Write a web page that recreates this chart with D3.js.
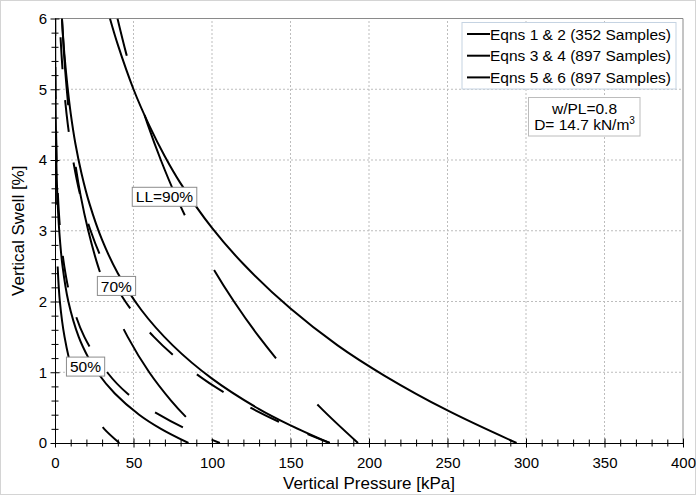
<!DOCTYPE html>
<html>
<head>
<meta charset="utf-8">
<script src="https://cdn.jsdelivr.net/npm/d3@7"></script>
<style>
  body { margin: 0; background: #fff; }
  text { font-family: "Liberation Sans", Arial, sans-serif; fill: #000; }
</style>
</head>
<body>
<div id="chart"></div>
<script>
// [pressure kPa, swell %]
var eq12_ll90 = [[35,6.0],[40,5.63],[50,5.0],[60,4.49],[70,4.05],[80,3.67],[100,3.04],[120,2.53],[150,1.9],[180,1.38],[210,0.95],[250,0.46],[294,0]];
var eq12_ll70 = [[4.4,6.0],[6,5.49],[8,5.03],[10,4.66],[13,4.23],[17,3.8],[22,3.38],[30,2.87],[40,2.4],[55,1.88],[75,1.38],[100,0.91],[130,0.48],[150,0.25],[175,0]];
var eq12_ll50 = [[0.085,6],[0.27,5],[0.85,4],[1.5,3.5],[2.7,3],[4.8,2.5],[8.5,2],[15.1,1.5],[21.4,1.2],[26.9,1.0],[38.1,0.7],[53.6,0.4],[67.5,0.2],[85,0]];

var eq34_ll90 = [[39.8,6],[45.4,5.5],[51.8,5],[59.1,4.5],[67.4,4],[76.8,3.5],[87.6,3],[99.9,2.5],[114,2],[130,1.5],[148.3,1],[169.1,0.5],[193,0]];
var eq34_ll70 = [[4.45,6],[5.75,5.5],[7.48,5],[9.69,4.5],[12.56,4],[16.3,3.5],[21.2,3],[27.4,2.5],[35.6,2],[46.3,1.5],[60,1],[73.9,0.6],[86.4,0.3],[101,0]];
var eq34_ll50 = [[0.019,6],[0.068,5],[0.24,4],[0.88,3],[1.67,2.5],[3.1,2],[6.08,1.5],[11.3,1],[16.9,0.7],[24.3,0.4],[31.3,0.2],[41,0]];

var eq56_ll70 = [[2.94,6],[4.13,5.5],[5.8,5],[8.17,4.5],[11.5,4],[16.1,3.5],[22.7,3],[31.9,2.5],[44.8,2],[63,1.5],[88.6,1],[116.3,0.6],[142.6,0.3],[175,0]];
var eq56_ll50 = [[0.105,6],[0.33,5],[1.05,4],[1.87,3.5],[3.32,3],[5.9,2.5],[10.5,2],[18.7,1.5],[33.2,1],[46.1,0.7],[66.3,0.4],[83.4,0.2],[105,0]];

var legendLabels = ["Eqns 1 & 2 (352 Samples)", "Eqns 3 & 4 (897 Samples)", "Eqns 5 & 6 (897 Samples)"];
var curveLabels = [{text: "LL=90%", p: 69.7, s: 3.48}, {text: "70%", p: 39.1, s: 2.22}, {text: "50%", p: 19.4, s: 1.08}];

var width = 696, height = 495;
var margin = {top: 18.5, right: 13, bottom: 52, left: 55};

var svg = d3.select("#chart").append("svg")
    .attr("width", width)
    .attr("height", height);

// outer frame
svg.append("rect")
    .attr("x", 0.5).attr("y", 0.5)
    .attr("width", width - 1).attr("height", height - 1)
    .attr("fill", "#fff").attr("stroke", "#d4d4d4");

var x = d3.scaleLinear().domain([0, 400]).range([margin.left, width - margin.right]);
var y = d3.scaleLinear().domain([0, 6]).range([height - margin.bottom, margin.top]);

svg.append("defs").append("clipPath").attr("id", "clip")
  .append("rect")
    .attr("x", x(0)).attr("y", y(6))
    .attr("width", x(400) - x(0)).attr("height", y(0) - y(6));

// grid
var grid = svg.append("g").attr("class", "grid");
grid.selectAll(".gx").data(d3.range(50, 400, 50)).enter().append("line")
    .attr("x1", function(d) { return x(d); }).attr("x2", function(d) { return x(d); })
    .attr("y1", y(0)).attr("y2", y(6));
grid.selectAll(".gy").data([1, 2, 3, 4, 5]).enter().append("line")
    .attr("y1", function(d) { return y(d); }).attr("y2", function(d) { return y(d); })
    .attr("x1", x(0)).attr("x2", x(400));
grid.selectAll("line")
    .attr("stroke", "#bdbdbd")
    .attr("stroke-dasharray", "2,2")
    .attr("stroke-width", 1);

// plot frame (top / right)
svg.append("path")
    .attr("d", "M" + x(0) + "," + y(6) + "H" + x(400) + "V" + y(0))
    .attr("fill", "none").attr("stroke", "#8a8a8a");

var line = d3.line()
    .curve(d3.curveCatmullRom.alpha(0.5))
    .x(function(d) { return x(d[0]); })
    .y(function(d) { return y(d[1]); });

// dashed curves are drawn from the axis upward so the dash phase starts at swell = 0
var series = [
  {values: eq12_ll90, dash: null},
  {values: eq12_ll70, dash: null},
  {values: eq12_ll50, dash: null},
  {values: eq34_ll90, dash: "108,62", offset: 52},
  {values: eq34_ll70, dash: "108,62", offset: 132},
  {values: eq34_ll50, dash: "108,62", offset: 85},
  {values: eq56_ll70, dash: "32,31", offset: 8},
  {values: eq56_ll50, dash: "32,31", offset: 23}
];

svg.append("g")
    .attr("clip-path", "url(#clip)")
  .selectAll("path").data(series).enter().append("path")
    .attr("d", function(d) { return line(d.values.slice().reverse()); })
    .attr("fill", "none")
    .attr("stroke", "#000")
    .attr("stroke-width", 2)
    .attr("stroke-dasharray", function(d) { return d.dash; })
    .attr("stroke-dashoffset", function(d) { return d.offset || 0; });

// curve labels
var lab = svg.append("g").selectAll("g").data(curveLabels).enter().append("g")
    .attr("transform", function(d) { return "translate(" + x(d.p) + "," + y(d.s) + ")"; });
lab.append("text")
    .attr("text-anchor", "middle")
    .attr("dy", "0.36em")
    .style("font-size", "15.5px")
    .text(function(d) { return d.text; });
lab.each(function() {
  var g = d3.select(this), bb = g.select("text").node().getBBox();
  g.insert("rect", "text")
      .attr("x", bb.x - 3.5).attr("y", -9.5)
      .attr("width", bb.width + 7).attr("height", 19)
      .attr("fill", "#fff").attr("stroke", "#8c8c8c");
});

// axes
var isInt = function(d) { return Math.abs(d - Math.round(d)) < 1e-6; };

var gx = svg.append("g")
    .attr("transform", "translate(0," + y(0) + ")")
    .call(d3.axisBottom(x).tickValues(d3.range(0, 401, 10)).tickSizeOuter(0).tickSize(0)
      .tickFormat(function(d) { return d % 50 === 0 ? d : ""; }));
gx.selectAll(".tick line")
    .attr("y1", function(d) { return d % 50 === 0 ? -4.5 : -3.5; })
    .attr("y2", function(d) { return d % 50 === 0 ? 4.5 : 3.5; });
gx.selectAll(".tick text").attr("y", 14).style("font-size", "15px");

var gy = svg.append("g")
    .attr("transform", "translate(" + x(0) + ",0)")
    .call(d3.axisLeft(y).tickValues(d3.range(0, 31).map(function(i) { return i * 0.2; }))
      .tickSizeOuter(0).tickSize(0)
      .tickFormat(function(d) { return isInt(d) ? Math.round(d) : ""; }));
gy.selectAll(".tick line")
    .attr("x1", function(d) { return isInt(d) ? -4.5 : -3.5; })
    .attr("x2", function(d) { return isInt(d) ? 4.5 : 3.5; });
gy.selectAll(".tick text").attr("x", -8).style("font-size", "15px");

svg.selectAll(".domain, .tick line").attr("stroke", "#000");

svg.append("text")
    .attr("x", (x(0) + x(400)) / 2).attr("y", 489)
    .attr("text-anchor", "middle")
    .style("font-size", "17px")
    .text("Vertical Pressure [kPa]");

svg.append("text")
    .attr("transform", "translate(24," + ((y(0) + y(6)) / 2) + ") rotate(-90)")
    .attr("text-anchor", "middle")
    .style("font-size", "17px")
    .text("Vertical Swell [%]");

// legend
var legend = svg.append("g").attr("transform", "translate(462,22.5)");
legend.append("rect")
    .attr("width", 214).attr("height", 66.5)
    .attr("fill", "#fff").attr("stroke", "#c5d3e2");
var li = legend.selectAll(".li").data(legendLabels).enter().append("g")
    .attr("transform", function(d, i) { return "translate(0," + (11.5 + i * 21.7) + ")"; });
li.append("line")
    .attr("x1", 5).attr("x2", 28)
    .attr("stroke", "#000").attr("stroke-width", 2);
li.append("text")
    .attr("x", 28).attr("dy", "0.36em")
    .style("font-size", "15.5px")
    .text(function(d) { return d; });

// parameter box
var note = svg.append("g").attr("transform", "translate(528.5,97.5)");
note.append("rect")
    .attr("width", 111.5).attr("height", 38.5)
    .attr("fill", "#fff").attr("stroke", "#bcbcbc");
note.append("text")
    .attr("x", 56).attr("y", 16.5)
    .attr("text-anchor", "middle")
    .style("font-size", "15.5px")
    .text("w/PL=0.8");
var t2 = note.append("text")
    .attr("x", 56).attr("y", 32.5)
    .attr("text-anchor", "middle")
    .style("font-size", "15.5px");
t2.append("tspan").text("D= 14.7 kN/m");
t2.append("tspan").attr("dy", -6).style("font-size", "10px").text("3");
</script>
</body>
</html>
